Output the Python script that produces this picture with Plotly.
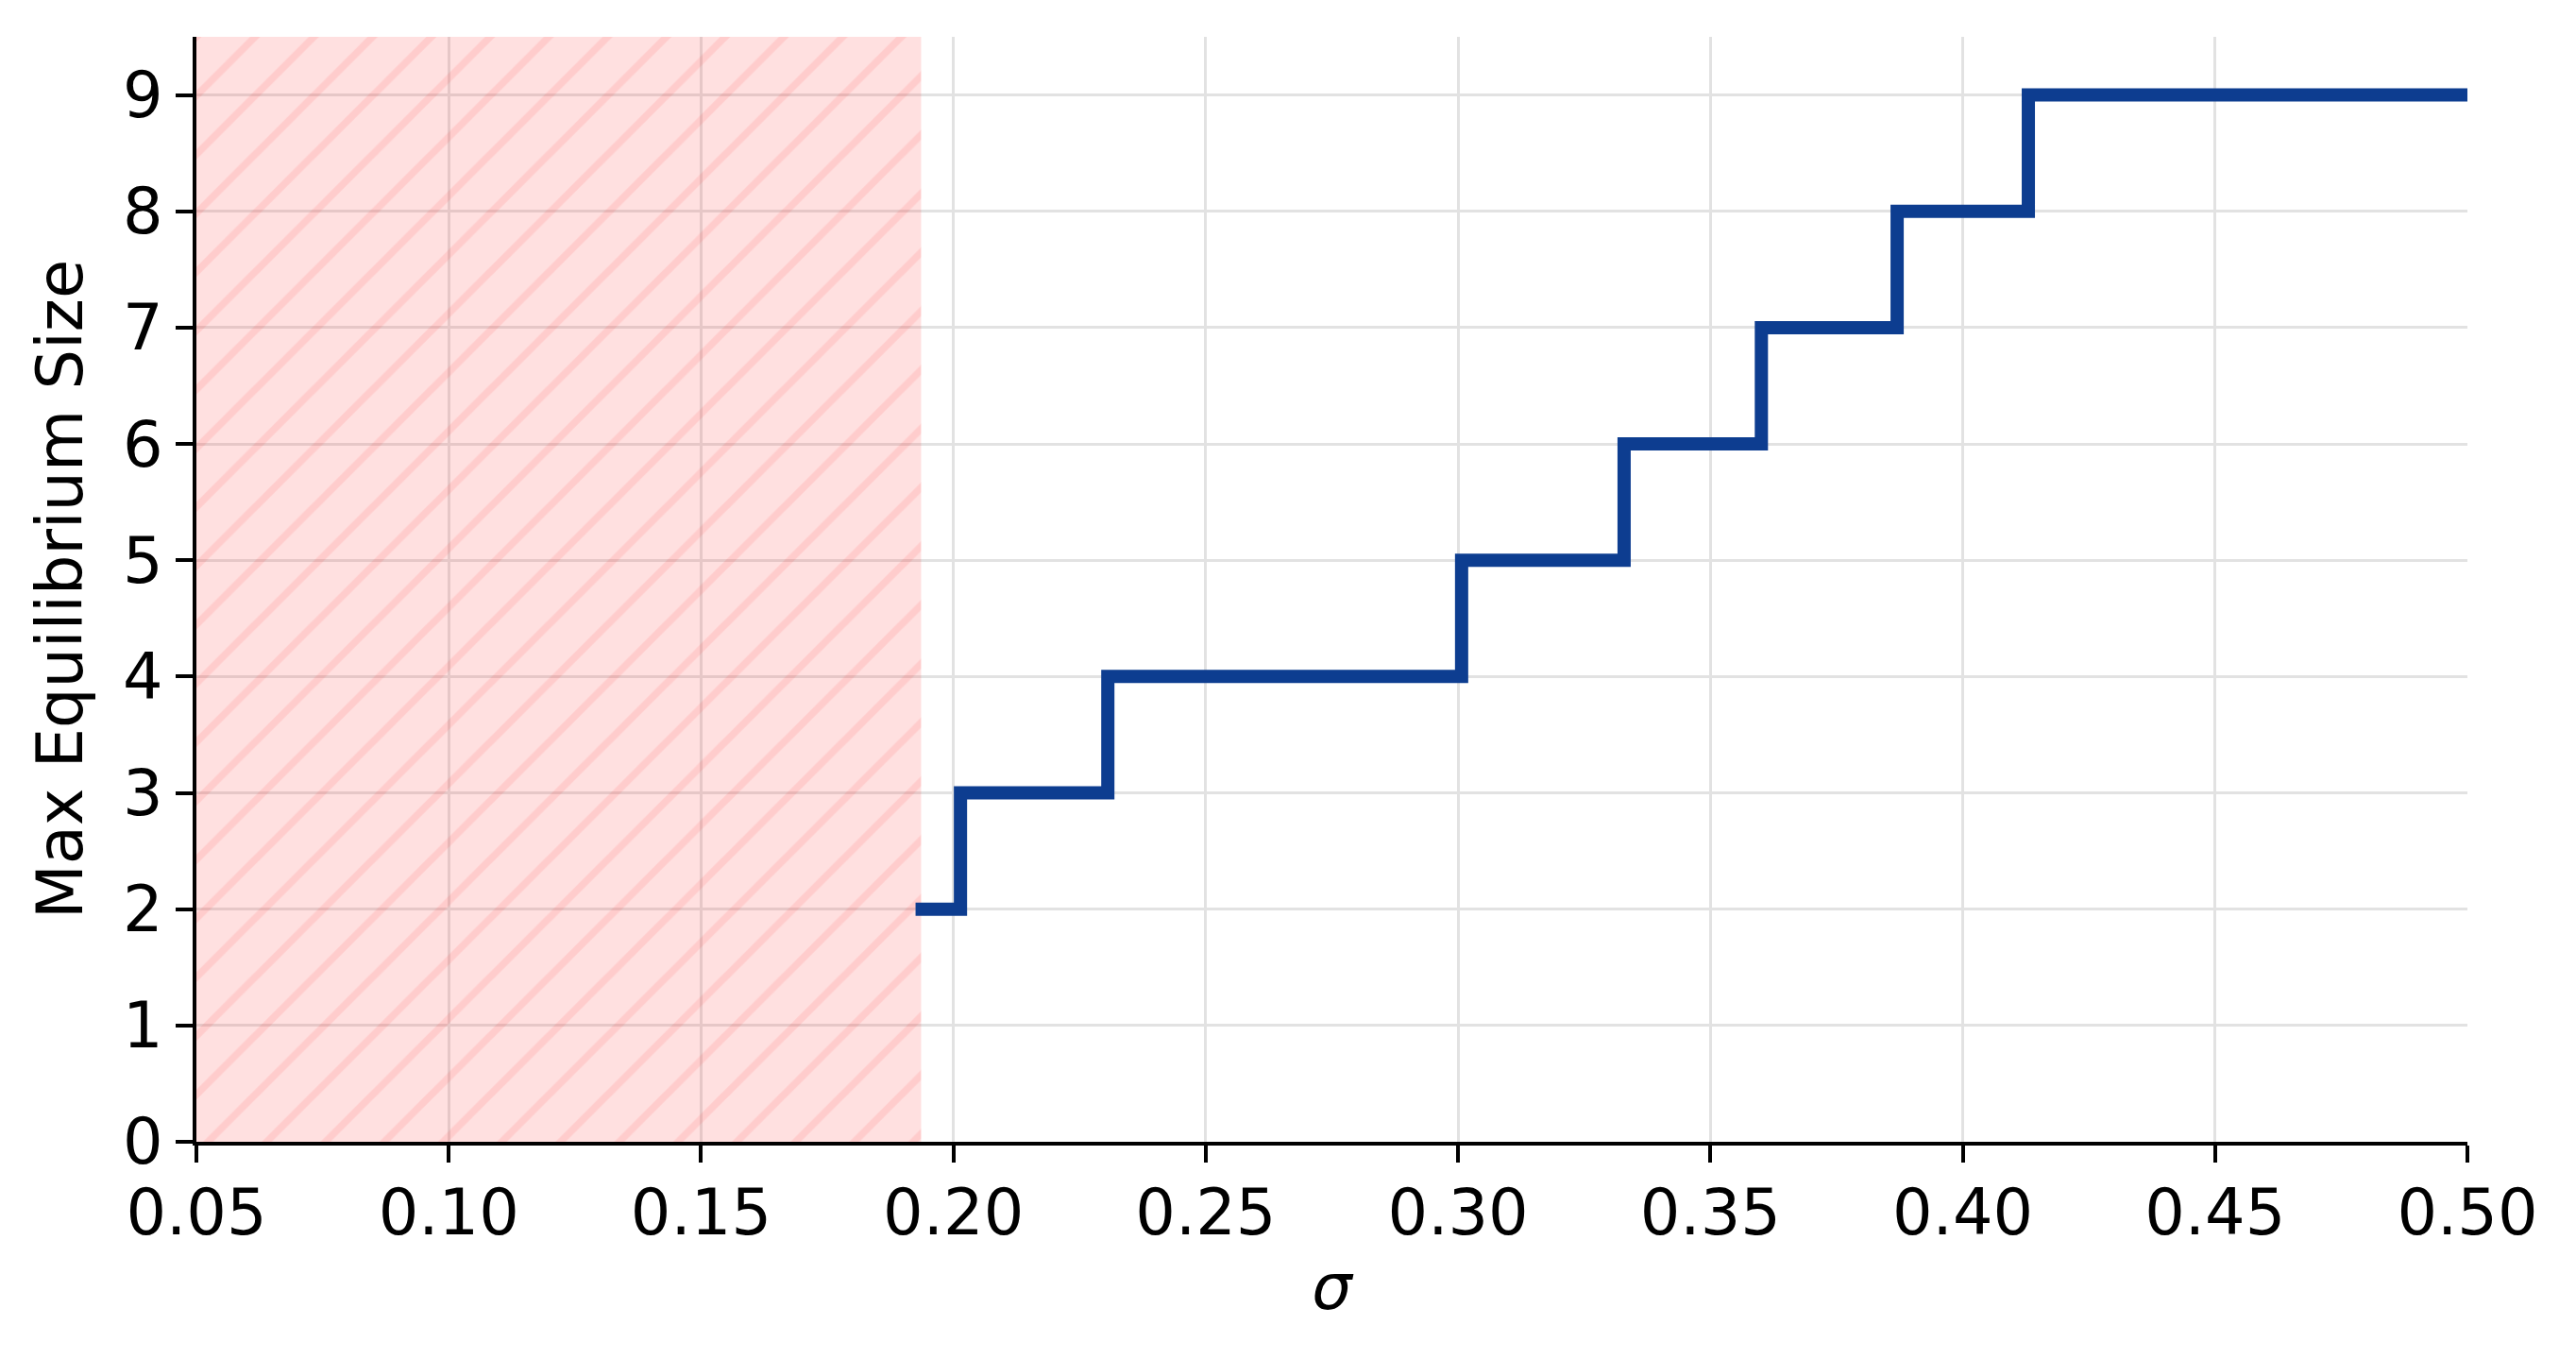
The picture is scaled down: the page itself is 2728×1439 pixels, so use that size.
import plotly.graph_objects as go

# step positions (sigma where the max equilibrium size jumps) and the sizes
sigma_steps = [0.1925, 0.2014, 0.2306, 0.3007, 0.3329, 0.3601, 0.3870, 0.4130, 0.50]
max_size = [2, 3, 4, 5, 6, 7, 8, 9, 9]

# region with no equilibrium (shaded, hatched)
shade_sigma = [0.05, 0.1936]
shade_top = [9.5, 9.5]

x_ticks = [0.05, 0.10, 0.15, 0.20, 0.25, 0.30, 0.35, 0.40, 0.45, 0.50]
y_ticks = [0, 1, 2, 3, 4, 5, 6, 7, 8, 9]

FONT = "DejaVu Sans"
FS = 67

fig = go.Figure()

fig.add_trace(go.Scatter(
    x=shade_sigma,
    y=shade_top,
    mode="lines",
    line=dict(width=0),
    fill="tozeroy",
    fillcolor="rgba(255,0,0,0.12)",
    fillpattern=dict(
        shape="/",
        size=44,
        solidity=0.17,
        fgcolor="rgba(255,0,0,0.18)",
        bgcolor="rgba(255,0,0,0.12)",
    ),
    hoverinfo="skip",
    showlegend=False,
))

fig.add_trace(go.Scatter(
    x=sigma_steps,
    y=max_size,
    mode="lines",
    line=dict(shape="hv", color="#0d3d90", width=14),
    showlegend=False,
))

axis_common = dict(
    showline=True,
    linecolor="black",
    linewidth=4,
    ticks="outside",
    ticklen=18,
    tickwidth=4,
    tickcolor="black",
    showgrid=True,
    gridcolor="#e2e2e2",
    gridwidth=3,
    zeroline=False,
    mirror=False,
    tickfont=dict(family=FONT, size=FS, color="black"),
)

fig.update_xaxes(
    **axis_common,
    range=[0.05, 0.50],
    tickvals=x_ticks,
    ticktext=[f"{v:.2f}" for v in x_ticks],
    ticklabelstandoff=-4,
    title=dict(text="<i>σ</i>", font=dict(family=FONT, size=FS, color="black"), standoff=18),
)
fig.update_yaxes(
    **axis_common,
    range=[0, 9.5],
    tickvals=y_ticks,
    ticktext=[str(v) for v in y_ticks],
    title=dict(text="Max Equilibrium Size", font=dict(family=FONT, size=FS, color="black"), standoff=22),
)

# page body has an 8px margin, so the figure is a little smaller than the window
fig.update_layout(
    width=2712,
    height=1423,
    margin=dict(l=200, r=107, t=31, b=222),
    plot_bgcolor="white",
    paper_bgcolor="white",
    font=dict(family=FONT, size=FS, color="black"),
)

fig.write_html("out.html")
